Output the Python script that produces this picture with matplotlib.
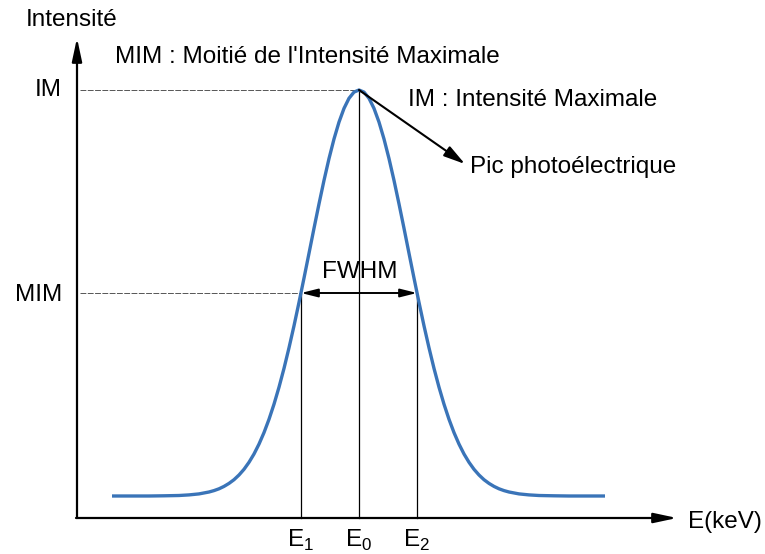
import numpy as np
import matplotlib.pyplot as plt

plt.rcParams['font.family'] = ['Liberation Sans', 'DejaVu Sans']

# positions relative to the axes origin (E along x, intensity along y)
E0 = 282
E1 = 224
E2 = 340
IM = 428
MIM = 225

# peak profile
E_curve = [35, 72, 87, 102, 112, 122, 132, 137, 142, 147, 152, 157, 162,
           167, 172, 177, 182, 187, 192, 197, 202, 207, 212, 217, 222, 227,
           232, 237, 242, 247, 252, 257, 262, 267, 272, 277, 282,
           287, 292, 297, 302, 307, 312, 317, 322, 327, 332, 337, 342, 347,
           352, 357, 362, 367, 372, 377, 382, 387, 392, 397, 402, 407, 412,
           417, 422, 427, 432, 442, 452, 462, 477, 492, 528]
I_curve = [22, 22, 22.2, 22.5, 23.1, 24.1, 26, 27.4, 29.2, 31.6, 34.6, 38.3, 43,
           48.7, 55.7, 64, 73.9, 85.4, 98.7, 113.8, 130.8, 149.6, 170.2, 192.2,
           215.6, 239.9, 264.7, 289.7, 314.1, 337.6, 359.4, 379, 395.9, 409.6,
           419.7, 425.9, 428,
           425.9, 419.7, 409.6, 395.9, 379, 359.4, 337.6, 314.1, 289.7, 264.7,
           239.9, 215.6, 192.2, 170.2, 149.6, 130.8, 113.8, 98.7, 85.4, 73.9,
           64, 55.7, 48.7, 43, 38.3, 34.6, 31.6, 29.2, 27.4, 26, 24.1, 23.1,
           22.5, 22.2, 22, 22]

x_axis_end = 600
y_axis_end = 480
pic_tip = (388, 354)

fig = plt.figure(figsize=(7.65, 5.54), dpi=100)
ax = fig.add_axes([0, 0, 1, 1])
ax.set_xlim(-77, 688)
ax.set_ylim(-36, 518)
ax.axis('off')

# axes with arrows
ax.annotate('', xy=(0, y_axis_end), xytext=(0, 0),
            arrowprops=dict(arrowstyle='-|>,head_length=1.4,head_width=0.3',
                            lw=1.6, color='black', shrinkA=0, shrinkB=0,
                            mutation_scale=10))
ax.annotate('', xy=(x_axis_end, 0), xytext=(-1, 0),
            arrowprops=dict(arrowstyle='-|>,head_length=1.4,head_width=0.3',
                            lw=1.6, color='black', shrinkA=0, shrinkB=0,
                            mutation_scale=10))

# guide lines
ax.plot([3, E0], [IM, IM], color='#555555', lw=0.7, ls=(0, (6, 1.5)))
ax.plot([3, E1], [MIM, MIM], color='#555555', lw=0.7, ls=(0, (6, 1.5)))
ax.plot([E1, E1], [0, MIM], color='black', lw=0.9)
ax.plot([E0, E0], [0, IM], color='black', lw=0.9)
ax.plot([E2, E2], [0, MIM], color='black', lw=0.9)

# peak
ax.plot(E_curve, I_curve, color='#3a74b8', lw=2.4, solid_capstyle='butt')

# FWHM arrow
ax.annotate('', xy=(E2, MIM), xytext=(E1, MIM),
            arrowprops=dict(arrowstyle='<|-|>,head_length=1.0,head_width=0.25',
                            lw=1.4, color='black', shrinkA=0, shrinkB=0,
                            mutation_scale=10))
# arrow to the photoelectric peak
ax.annotate('', xy=pic_tip, xytext=(E0, IM),
            arrowprops=dict(arrowstyle='-|>,head_length=1.3,head_width=0.35',
                            lw=1.5, color='black', shrinkA=0, shrinkB=0,
                            mutation_scale=10))

fs = 17.5
ax.text(-5, 498, 'Intensité', fontsize=fs, ha='center', va='center')
ax.text(38, 461, "MIM : Moitié de l'Intensité Maximale", fontsize=fs, ha='left', va='center')
ax.text(-15, IM, 'IM', fontsize=fs, ha='right', va='center')
ax.text(-15, MIM - 2, 'MIM', fontsize=fs, ha='right', va='center')
ax.text(331, 418, 'IM : Intensité Maximale', fontsize=fs, ha='left', va='center')
ax.text(393, 351, 'Pic photoélectrique', fontsize=fs, ha='left', va='center')
ax.text(283, 246, 'FWHM', fontsize=fs, ha='center', va='center')
ax.text(611, -4, 'E(keV)', fontsize=fs, ha='left', va='center')
ax.text(E1, -22, r'E$_\mathregular{1}$', fontsize=fs, ha='center', va='center')
ax.text(E0, -22, r'E$_\mathregular{0}$', fontsize=fs, ha='center', va='center')
ax.text(E2, -22, r'E$_\mathregular{2}$', fontsize=fs, ha='center', va='center')

fig.savefig('out.png', dpi=100)
